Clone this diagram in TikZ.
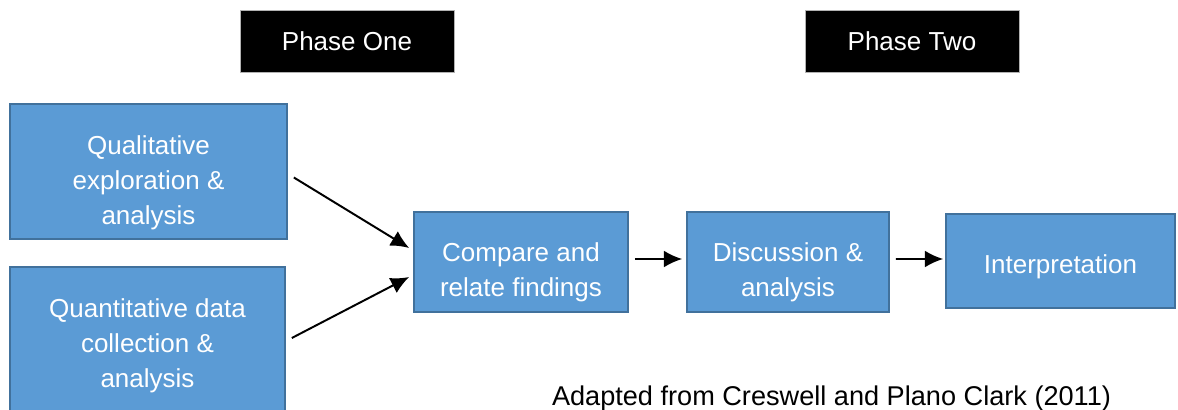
\documentclass[tikz,border=0pt]{standalone}
\usepackage{fontspec}
\setmainfont{Liberation Sans}
\usetikzlibrary{arrows.meta}
\definecolor{boxfill}{HTML}{5B9BD5}
\definecolor{boxline}{HTML}{41719C}
\tikzset{
  phasebox/.style={draw=gray!60, fill=black, text=white, minimum width=5.35cm, minimum height=1.55cm, font=\fontsize{18.5}{24.9}\selectfont},
  stagebox/.style={draw=boxline, line width=1.2pt, fill=boxfill, inner sep=0pt},
  boxtext/.style={text=white, align=center, inner sep=0pt, font=\fontsize{18.5}{24.9}\selectfont},
  flow/.style={->, line width=1.4pt}
}
\begin{document}
\begin{tikzpicture}[>={Latex[length=13pt,width=12pt]}]
\clip (0,0) rectangle (29.45,10.25);
\node (phaseone) at (8.675,9.225)[phasebox]{Phase One};
\node (phasetwo) at (22.8,9.225)[phasebox]{Phase Two};
\node (qual) at (3.7125,5.9625)[stagebox, minimum width=6.925cm, minimum height=3.375cm]{};
\node (quant) at (3.6875,1.6)[stagebox, minimum width=6.875cm, minimum height=3.95cm]{};
\node (compare) at (13.025,3.7)[stagebox, minimum width=5.35cm, minimum height=2.5cm]{};
\node (disc) at (19.7,3.7)[stagebox, minimum width=5.05cm, minimum height=2.5cm]{};
\node (interp) at (26.5125,3.725)[stagebox, minimum width=5.725cm, minimum height=2.35cm]{};
\node (qualtxt) at ([yshift=-.29cm]qual.center)[boxtext]{Qualitative\\exploration \&\\analysis};
\node (quanttxt) at (quant.center)[boxtext]{Quantitative data\\collection \&\\analysis};
\node (comparetxt) at ([yshift=-.26cm]compare.center)[boxtext]{Compare and\\relate findings};
\node (disctxt) at ([yshift=-.26cm]disc.center)[boxtext]{Discussion \&\\analysis};
\node (interptxt) at ([yshift=-.15cm]interp.center)[boxtext]{Interpretation};
\draw[flow]([xshift=.15cm,yshift=-.15cm]qual.east)--([xshift=-.1cm,yshift=.35cm]compare.west);
\draw[flow]([xshift=.15cm,yshift=.2cm]quant.east)--([xshift=-.1cm,yshift=-.375cm]compare.west);
\draw[flow]([xshift=.15cm,yshift=.075cm]compare.east)--([xshift=-.1cm,yshift=.075cm]disc.west);
\draw[flow]([xshift=.15cm,yshift=.075cm]disc.east)--([xshift=-.05cm,yshift=.05cm]interp.west);
\node (credit) at (20.7875,.3)[font=\fontsize{19.3}{24.9}\selectfont]{Adapted from Creswell and Plano Clark (2011)};
    \end{tikzpicture}
\end{document}
